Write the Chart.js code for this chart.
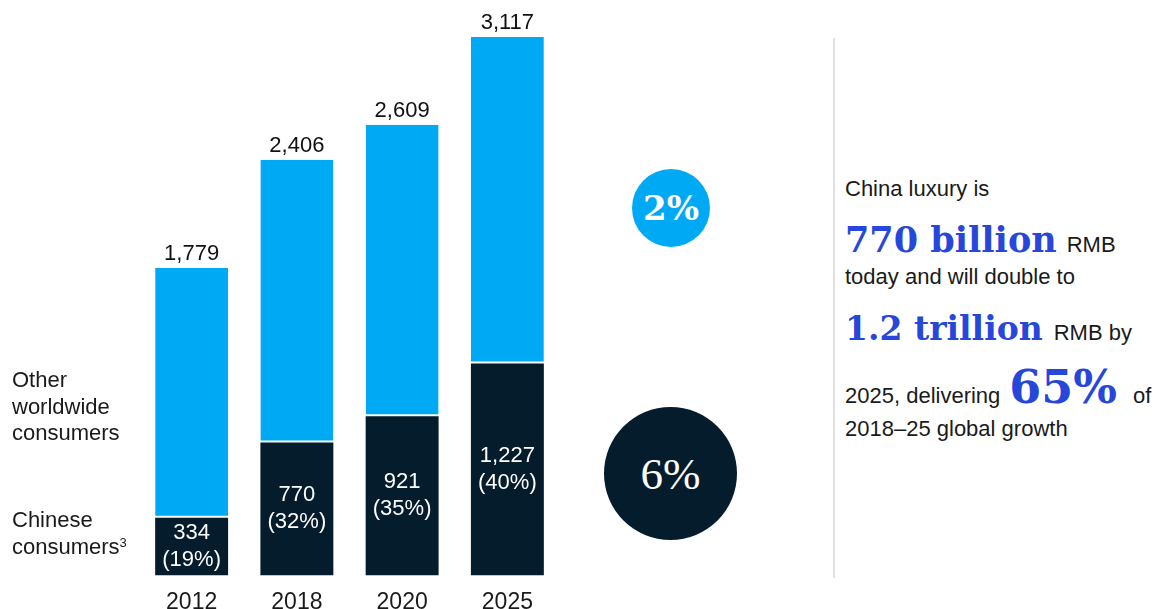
<!DOCTYPE html>
<html>
<head>
<meta charset="utf-8">
<script src="https://cdn.jsdelivr.net/npm/chart.js@4/dist/chart.umd.min.js"></script>
<style>
  html, body { margin: 0; padding: 0; background: #fff; }
  body { width: 1160px; height: 609px; position: relative; overflow: hidden;
         font-family: "Liberation Sans", Arial, sans-serif; color: #1a1a1a; }
  #chart { position: absolute; left: 0; top: 0; }
  .side { position: absolute; left: 12px; font-size: 22px; line-height: 26.5px; }
  .side sup { font-size: 13px; vertical-align: 7px; line-height: 0; }
  .bubble { position: absolute; border-radius: 50%; color: #fff; display: flex;
            align-items: center; justify-content: center; }
  .rule { position: absolute; left: 833px; top: 38px; width: 2px; height: 540px; background: #e0e0e0; }
  .line { position: absolute; left: 845px; display: flex; align-items: baseline;
          font-size: 22px; line-height: 1; white-space: nowrap; }
  .big { font-family: "DejaVu Serif", serif; font-weight: bold; color: #2647d9; }
</style>
</head>
<body>
<!-- canvas runs a little past the page bottom so the year labels sit low under the bars -->
<canvas id="chart" width="580" height="629"></canvas>

<div class="side" style="top:367px">Other<br>worldwide<br>consumers</div>
<div class="side" style="top:507px">Chinese<br>consumers<sup>3</sup></div>

<div class="bubble" style="left:632px; top:169px; width:78px; height:78px; background:#00a9f4;
     font-family:'DejaVu Serif', serif; font-weight:bold; font-size:34px;">2%</div>
<div class="bubble" style="left:604px; top:407px; width:133px; height:133px; background:#051c2c;
     font-family:'Liberation Serif', serif; font-size:45px;">6%</div>

<div class="rule"></div>

<div class="line" style="top:178px">China luxury is</div>
<div class="line" style="top:222px"><span class="big" style="font-size:35px">770 billion</span><span style="margin-left:10px">RMB</span></div>
<div class="line" style="top:266px">today and will double to</div>
<div class="line" style="top:312px"><span class="big" style="font-size:33px">1.2 trillion</span><span style="margin-left:11px">RMB by</span></div>
<div class="line" style="top:364px"><span>2025, delivering</span><span class="big" style="font-size:46px; margin-left:9px">65%</span><span style="margin-left:16px">of</span></div>
<div class="line" style="top:418px">2018–25 global growth</div>

<script>
// luxury spend by year, billion RMB
const years = ['2012', '2018', '2020', '2025'];
const chineseSpend = [334, 770, 921, 1227];
const otherSpend = [1445, 1636, 1688, 1890];
const totals = [1779, 2406, 2609, 3117];
const chineseShare = ['19%', '32%', '35%', '40%'];

const NAVY = '#051c2c';
const SKY = '#00a9f4';
const fmt = v => v.toLocaleString('en-US');

// totals above each stack, value + share inside the navy segment
const barLabels = {
  id: 'barLabels',
  afterDatasetsDraw(chart) {
    const ctx = chart.ctx;
    const low = chart.getDatasetMeta(0).data;
    const high = chart.getDatasetMeta(1).data;
    ctx.save();
    ctx.font = '22px "Liberation Sans", Arial, sans-serif';
    ctx.textAlign = 'center';
    high.forEach((bar, i) => {
      ctx.fillStyle = '#111';
      ctx.textBaseline = 'alphabetic';
      ctx.fillText(fmt(totals[i]), bar.x, bar.y - 8);
    });
    low.forEach((bar, i) => {
      const mid = (bar.y + bar.base) / 2;
      ctx.fillStyle = '#fff';
      ctx.textBaseline = 'middle';
      ctx.fillText(fmt(chineseSpend[i]), bar.x, mid - 13.5);
      ctx.fillText('(' + chineseShare[i] + ')', bar.x, mid + 13.5);
    });
    ctx.restore();
  }
};

new Chart(document.getElementById('chart'), {
  type: 'bar',
  data: {
    labels: years,
    datasets: [
      { label: 'Chinese consumers', data: chineseSpend, backgroundColor: NAVY },
      { label: 'Other worldwide consumers', data: otherSpend, backgroundColor: SKY,
        borderColor: '#fff', borderSkipped: false,
        borderWidth: { top: 0, left: 0, right: 0, bottom: 2 } }
    ]
  },
  options: {
    responsive: false,
    animation: false,
    datasets: { bar: { barPercentage: 0.693, categoryPercentage: 1 } },
    layout: { padding: { left: 139, right: 20, top: 37, bottom: 0 } },
    plugins: { legend: { display: false }, tooltip: { enabled: false } },
    scales: {
      x: {
        stacked: true,
        grid: { display: false, drawTicks: false },
        border: { display: false },
        ticks: { color: '#1a1a1a', padding: 13,
                 font: { family: '"Liberation Sans", Arial, sans-serif', size: 23 } }
      },
      y: { stacked: true, display: false, min: 0, max: 3117 }
    }
  },
  plugins: [barLabels]
});
</script>
</body>
</html>
